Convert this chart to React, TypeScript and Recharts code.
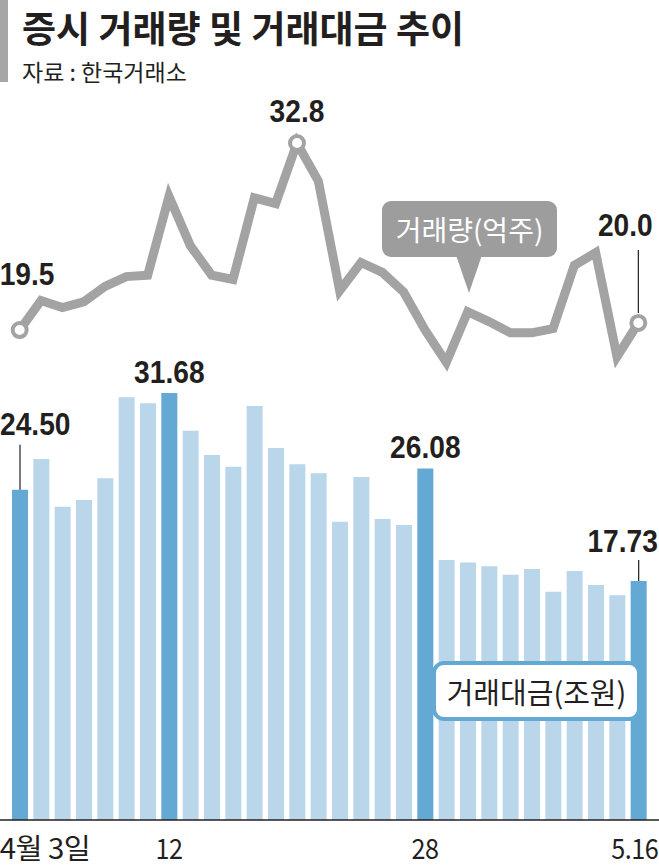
import React from 'react';
import { ComposedChart, Bar, Line, XAxis, YAxis, Cell, LabelList } from 'recharts';

// trading days, 2023-04-03 ~ 2023-05-16
const days = [
  '4/3', '4/4', '4/5', '4/6', '4/7', '4/10', '4/11', '4/12', '4/13', '4/14',
  '4/17', '4/18', '4/19', '4/20', '4/21', '4/24', '4/25', '4/26', '4/27', '4/28',
  '5/2', '5/3', '5/4', '5/8', '5/9', '5/10', '5/11', '5/12', '5/15', '5/16',
];

// 거래량 (억주)
const volume = [
  19.5, 21.6, 21.1, 21.5, 22.6, 23.3, 23.4, 29.0, 25.5, 23.4,
  23.1, 28.9, 28.5, 32.8, 30.1, 22.3, 24.3, 23.6, 22.2, 19.5,
  17.2, 20.8, 20.1, 19.3, 19.3, 19.6, 24.1, 25.0, 17.6, 20.0,
];

// 거래대금 (조원)
const amount = [
  24.50, 26.78, 23.24, 23.74, 25.35, 31.36, 30.91, 31.68, 28.88, 27.08,
  26.21, 30.71, 27.60, 26.39, 25.72, 22.13, 25.44, 22.33, 21.88, 26.08,
  19.29, 19.11, 18.82, 18.20, 18.62, 16.94, 18.47, 17.43, 16.67, 17.73,
];

const highlighted = ['4/3', '4/12', '4/28', '5/16'];
const volumeMarked = ['4/3', '4/20', '5/16'];
const tickLabels: Record<string, string> = { '4/3': '4월 3일', '4/12': '12', '4/28': '28', '5/16': '5.16' };

const data = days.map((d, i) => ({ day: d, volume: volume[i], amount: amount[i] }));

const INK = '#231f20';
const GRAY = '#a3a3a3';
const DARK = '#63a9d3';
const LIGHT = '#bad6ea';
const KR = '"Noto Sans CJK KR", "Noto Sans", sans-serif';
const NUM = '"Liberation Sans", Arial, sans-serif';

// condensed bold number, like the newspaper's figure font
const Num = ({ x, y, anchor, children }: any) => (
  <text
    transform={`translate(${x} ${y}) scale(0.88 1)`}
    textAnchor={anchor}
    fontFamily={NUM}
    fontWeight={700}
    fontSize={32}
    fill={INK}
  >
    {children}
  </text>
);

const VolumeDot = (props: any) => {
  const { cx, cy, payload } = props;
  if (!volumeMarked.includes(payload.day)) return <g />;
  return <circle cx={cx} cy={cy} r={7} fill="#fff" stroke={GRAY} strokeWidth={4} />;
};

const VolumeLabel = (props: any) => {
  const { x, y, index, value } = props;
  const d = days[index];
  if (d === '4/3') return <Num x={x - 20} y={y - 45} anchor="start">{value.toFixed(1)}</Num>;
  if (d === '4/20') return <Num x={x} y={y - 21} anchor="middle">{value.toFixed(1)}</Num>;
  if (d === '5/16') {
    return (
      <g>
        <line x1={x} x2={x} y1={y - 73} y2={y - 10} stroke={INK} strokeWidth={1.2} />
        <Num x={x - 13} y={y - 87} anchor="middle">{value.toFixed(1)}</Num>
      </g>
    );
  }
  return null;
};

const AmountLabel = (props: any) => {
  const { x, y, width, index, value } = props;
  const d = days[index];
  const cx = x + width / 2;
  if (d === '4/3') {
    return (
      <g>
        <line x1={cx} x2={cx} y1={y - 45} y2={y} stroke={INK} strokeWidth={1.2} />
        <Num x={0} y={y - 55} anchor="start">{value.toFixed(2)}</Num>
      </g>
    );
  }
  if (d === '4/12' || d === '4/28') return <Num x={cx} y={y - 10} anchor="middle">{value.toFixed(2)}</Num>;
  if (d === '5/16') {
    return (
      <g>
        <line x1={cx} x2={cx} y1={y - 21} y2={y} stroke={INK} strokeWidth={1.2} />
        <Num x={cx - 16} y={y - 29} anchor="middle">{value.toFixed(2)}</Num>
      </g>
    );
  }
  return null;
};

const DayTick = (props: any) => {
  const { x, y, payload } = props;
  const label = tickLabels[payload.value];
  if (!label) return <g />;
  let anchor: 'start' | 'middle' | 'end' = 'middle';
  let tx = x;
  let sx = 0.9;
  if (payload.value === '4/3') { anchor = 'start'; tx = x - 20; sx = 1.05; }
  if (payload.value === '5/16') { anchor = 'end'; tx = x + 20; }
  return (
    <text
      transform={`translate(${tx} ${y + 39}) scale(${sx} 1)`}
      textAnchor={anchor}
      fontFamily={KR}
      fontSize={28}
      letterSpacing={-0.5}
      fill={INK}
    >
      {label}
    </text>
  );
};

export default function App() {
  return (
    <div style={{ position: 'absolute', left: 0, top: 0, width: 659, height: 868, background: '#fff', overflow: 'hidden' }}>
      <div style={{ position: 'absolute', left: 0, top: 0 }}>
        <ComposedChart width={659} height={868} data={data} margin={{ top: 100, right: 0, bottom: 0, left: 0 }}>
          <XAxis
            dataKey="day"
            interval={0}
            height={48}
            tickLine={false}
            tickSize={0}
            tickMargin={0}
            padding={{ left: 9, right: 10 }}
            axisLine={{ stroke: INK, strokeWidth: 1.5 }}
            tick={<DayTick />}
          />
          <YAxis yAxisId="amt" hide domain={[0, 53.41]} />
          <YAxis yAxisId="vol" hide domain={[-15.35, 35.86]} />
          <Bar yAxisId="amt" dataKey="amount" barSize={16} isAnimationActive={false}>
            {data.map((e) => (
              <Cell key={e.day} fill={highlighted.includes(e.day) ? DARK : LIGHT} />
            ))}
            <LabelList dataKey="amount" content={<AmountLabel />} />
          </Bar>
          <Line
            yAxisId="vol"
            type="linear"
            dataKey="volume"
            stroke={GRAY}
            strokeWidth={9}
            dot={<VolumeDot />}
            activeDot={false}
            isAnimationActive={false}
          >
            <LabelList dataKey="volume" content={<VolumeLabel />} />
          </Line>
        </ComposedChart>
      </div>

      {/* header */}
      <div style={{ position: 'absolute', left: 0, top: 0, width: 8, height: 82, background: '#a6a6a6' }} />
      <div style={{ position: 'absolute', left: 22, top: 0, width: 520, fontFamily: KR, fontWeight: 700, fontSize: 37, lineHeight: '54px', color: INK, whiteSpace: 'nowrap' }}>
        증시 거래량 및 거래대금 추이
      </div>
      <div style={{ position: 'absolute', left: 22, top: 54, width: 300, fontFamily: KR, fontSize: 23, lineHeight: '34px', color: INK, whiteSpace: 'nowrap' }}>
        자료 : 한국거래소
      </div>

      {/* 거래량 callout */}
      <svg style={{ position: 'absolute', left: 0, top: 0 }} width={659} height={868}>
        <polygon points="456,255 482,255 469,293" fill="#9d9d9d" />
      </svg>
      <div style={{ position: 'absolute', left: 382, top: 201, width: 175, height: 56, background: '#9d9d9d', borderRadius: 9, color: '#fff', fontFamily: KR, fontSize: 28, lineHeight: '56px', textAlign: 'center', whiteSpace: 'nowrap' }}>
        거래량(억주)
      </div>

      {/* 거래대금 callout */}
      <div style={{ position: 'absolute', left: 432, top: 661, width: 201, height: 52, background: '#fff', border: `4px solid ${DARK}`, borderRadius: 12, color: INK, fontFamily: KR, fontSize: 29, lineHeight: '52px', textAlign: 'center', whiteSpace: 'nowrap' }}>
        거래대금(조원)
      </div>
    </div>
  );
}
